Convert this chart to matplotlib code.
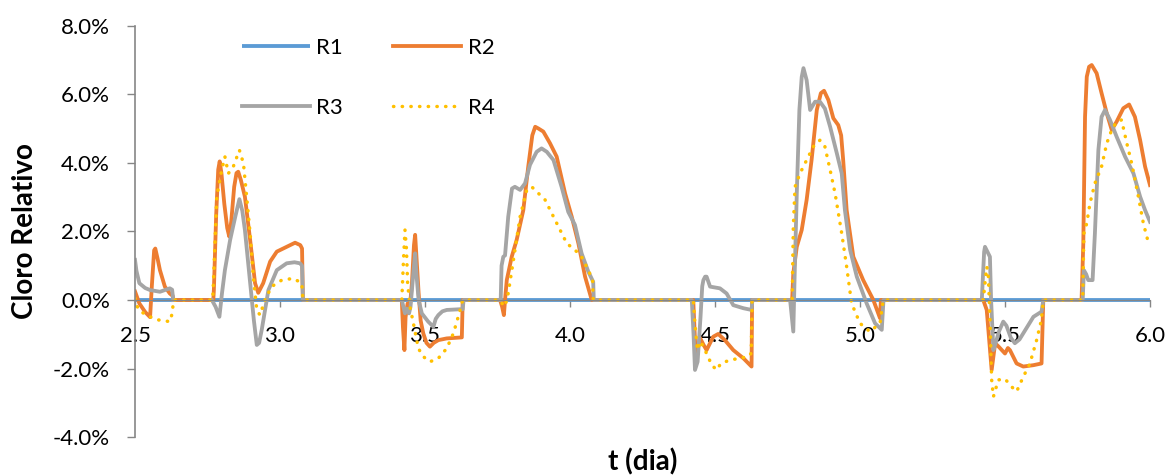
import numpy as np
import matplotlib
matplotlib.use("Agg")
import matplotlib.pyplot as plt
from matplotlib.ticker import FuncFormatter, MultipleLocator

plt.rcParams['font.family'] = ['Lato', 'DejaVu Sans']

nan = np.nan

# ---- dados (t em dias, cloro relativo em %) ----
t_r1 = [2.5, 6.0]
r1 = [0.0, 0.0]

t_r2 = [2.500, 2.515, 2.535, 2.552, 2.558, 2.566, 2.570, 2.578, 2.586, 2.603, 2.620, 2.630, 2.633,
        2.770, 2.772, 2.780, 2.787, 2.792, 2.798, 2.808, 2.818, 2.825, 2.832, 2.842, 2.850, 2.856,
        2.865, 2.879, 2.897, 2.914, 2.925, 2.942, 2.966, 2.989, 3.023, 3.052, 3.070, 3.076, 3.079,
        3.420, 3.424, 3.429, 3.433, 3.440, 3.448, 3.455, 3.462, 3.466, 3.471, 3.478, 3.485, 3.494,
        3.505, 3.517, 3.530, 3.546, 3.575, 3.627, 3.630,
        3.759, 3.766, 3.772, 3.777, 3.782, 3.799, 3.816, 3.839, 3.856, 3.870, 3.880, 3.891, 3.908,
        3.931, 3.954, 3.983, 4.006, 4.029, 4.052, 4.075,
        4.425, 4.434, 4.448, 4.460, 4.471, 4.494, 4.511, 4.534, 4.563, 4.598, 4.626, 4.628,
        4.766, 4.770, 4.782, 4.799, 4.816, 4.833, 4.851, 4.865, 4.876, 4.891, 4.908, 4.925, 4.935,
        4.942, 4.954, 4.977, 5.011, 5.046, 5.069, 5.072,
        5.425, 5.437, 5.454, 5.466, 5.477, 5.500, 5.510, 5.517, 5.540, 5.563, 5.598, 5.626, 5.632,
        5.764, 5.770, 5.776, 5.782, 5.790, 5.799, 5.816, 5.833, 5.851, 5.868, 5.885, 5.908, 5.928,
        5.948, 5.966, 5.983, 6.000]
r2 = [0.25, -0.10, -0.35, -0.50, 0.40, 1.45, 1.50, 1.20, 0.87, 0.39, 0.19, 0.12, 0.0,
      0.0, 0.30, 2.50, 3.80, 4.04, 3.70, 2.80, 2.10, 1.85, 2.30, 3.30, 3.70, 3.74,
      3.50, 3.01, 1.75, 0.49, 0.21, 0.49, 1.12, 1.41, 1.55, 1.67, 1.60, 1.50, 0.0,
      0.0, -0.80, -1.46, -0.50, -0.10, -0.20, 0.50, 1.60, 1.90, 1.20, 0.20, -0.60, -0.97,
      -1.25, -1.36, -1.25, -1.17, -1.12, -1.09, 0.0,
      0.0, -0.20, -0.44, 0.10, 0.58, 1.26, 1.75, 2.62, 3.89, 4.80, 5.05, 5.00, 4.91,
      4.57, 4.18, 3.11, 2.43, 1.65, 0.68, 0.0,
      0.0, -1.75, -1.10, -1.30, -1.46, -1.07, -0.99, -1.17, -1.46, -1.70, -1.94, 0.0,
      0.0, 0.78, 1.55, 2.04, 2.92, 4.08, 5.54, 6.03, 6.10, 5.83, 5.30, 5.10, 4.80,
      4.08, 2.62, 1.26, 0.58, 0.0, -0.53, 0.0,
      0.0, -0.29, -2.04, -1.26, -1.35, -1.56, -1.40, -1.46, -1.85, -1.94, -1.90, -1.85, 0.0,
      0.0, 1.65, 5.34, 6.51, 6.80, 6.85, 6.61, 6.03, 5.44, 4.96, 5.20, 5.59, 5.70,
      5.34, 4.66, 3.89, 3.35]

t_r3 = [2.500, 2.505, 2.515, 2.535, 2.552, 2.586, 2.620, 2.628, 2.632, 2.700,
        2.765, 2.778, 2.791, 2.800, 2.810, 2.828, 2.845, 2.860, 2.870, 2.879, 2.897, 2.910, 2.920,
        2.928, 2.937, 2.960, 2.989, 3.023, 3.050, 3.069, 3.076, 3.079,
        3.420, 3.431, 3.437, 3.445, 3.450, 3.460, 3.466, 3.470, 3.478, 3.489, 3.511, 3.529, 3.537,
        3.546, 3.560, 3.575, 3.620, 3.630, 3.633,
        3.761, 3.764, 3.770, 3.776, 3.787, 3.800, 3.810, 3.828, 3.845, 3.862, 3.885, 3.902, 3.920,
        3.943, 3.971, 3.994, 4.017, 4.040, 4.063, 4.080, 4.082,
        4.420, 4.426, 4.431, 4.440, 4.450, 4.456, 4.460, 4.466, 4.471, 4.483, 4.517, 4.540, 4.563,
        4.598, 4.626, 4.629,
        4.759, 4.765, 4.770, 4.774, 4.782, 4.791, 4.799, 4.805, 4.816, 4.828, 4.845, 4.862, 4.879,
        4.897, 4.920, 4.937, 4.948, 4.966, 4.989, 5.023, 5.052, 5.075, 5.081,
        5.420, 5.428, 5.431, 5.448, 5.452, 5.460, 5.466, 5.480, 5.494, 5.505, 5.520, 5.534, 5.550,
        5.574, 5.598, 5.626, 5.632,
        5.768, 5.772, 5.780, 5.787, 5.802, 5.810, 5.822, 5.833, 5.845, 5.862, 5.885, 5.914, 5.943,
        5.966, 5.983, 6.000]
r3 = [1.17, 0.85, 0.49, 0.35, 0.29, 0.24, 0.34, 0.30, 0.0, nan,
      0.0, -0.20, -0.49, 0.20, 0.87, 1.75, 2.40, 2.94, 2.60, 2.04, 0.49, -0.60, -1.31,
      -1.25, -0.87, 0.29, 0.87, 1.07, 1.10, 1.07, 1.00, 0.0,
      0.0, -0.39, -0.25, -0.39, -0.20, 0.80, 1.36, 0.80, 0.0, -0.39, -0.63, -0.78, -0.55,
      -0.44, -0.33, -0.29, -0.27, -0.27, 0.0,
      0.0, 1.00, 1.26, 1.30, 2.43, 3.25, 3.30, 3.21, 3.40, 3.94, 4.32, 4.42, 4.32,
      4.08, 3.30, 2.57, 2.19, 1.36, 0.83, 0.53, 0.0,
      0.0, -1.00, -2.04, -1.80, -0.50, 0.40, 0.58, 0.68, 0.68, 0.39, 0.34, 0.19, -0.15,
      -0.24, -0.29, 0.0,
      0.0, -0.50, -0.92, 0.50, 3.11, 5.54, 6.50, 6.76, 6.41, 5.54, 5.78, 5.78, 5.58,
      5.05, 4.28, 3.69, 2.62, 1.46, 0.68, -0.10, -0.68, -0.87, 0.0,
      0.0, 1.40, 1.55, 1.26, 0.0, -1.46, -1.30, -0.90, -0.63, -0.75, -1.10, -1.26, -1.15,
      -0.82, -0.49, -0.34, 0.0,
      0.0, 0.87, 0.75, 0.58, 0.58, 1.94, 4.37, 5.34, 5.54, 5.25, 4.76, 4.18, 3.69,
      3.01, 2.62, 2.28]

t_r4 = [2.500, 2.510, 2.520, 2.552, 2.580, 2.620, 2.628, 2.633,
        2.768, 2.775, 2.782, 2.799, 2.810, 2.822, 2.839, 2.860, 2.874, 2.885, 2.897, 2.908, 2.920,
        2.931, 2.948, 2.971, 3.006, 3.046, 3.075, 3.079,
        3.420, 3.426, 3.431, 3.436, 3.440, 3.448, 3.460, 3.477, 3.494, 3.517, 3.546, 3.575, 3.598,
        3.618, 3.630,
        3.759, 3.766, 3.776, 3.787, 3.805, 3.828, 3.851, 3.868, 3.891, 3.914, 3.937, 3.960, 3.989,
        4.017, 4.040, 4.063, 4.078, 4.080,
        4.425, 4.432, 4.439, 4.450, 4.471, 4.489, 4.506, 4.520, 4.552, 4.585, 4.615, 4.625, 4.628,
        4.766, 4.770, 4.776, 4.793, 4.816, 4.839, 4.862, 4.879, 4.897, 4.914, 4.937, 4.954, 4.971,
        5.000, 5.034, 5.069, 5.080,
        5.425, 5.437, 5.442, 5.448, 5.454, 5.460, 5.477, 5.500, 5.523, 5.540, 5.563, 5.586, 5.609,
        5.625, 5.632,
        5.768, 5.772, 5.782, 5.793, 5.810, 5.833, 5.851, 5.868, 5.885, 5.902, 5.920, 5.937, 5.960,
        5.977, 5.995]
r4 = [0.05, -0.25, -0.34, -0.49, -0.58, -0.63, -0.40, 0.0,
      0.0, 1.50, 3.01, 3.79, 4.18, 3.69, 3.89, 4.37, 3.98, 3.01, 1.94, 0.68, -0.29,
      -0.44, 0.0, 0.39, 0.58, 0.63, 0.49, 0.0,
      0.0, 1.20, 2.04, 1.50, 0.50, -0.19, -0.68, -1.41, -1.65, -1.80, -1.70, -1.41, -0.97,
      -0.39, 0.0,
      0.0, -0.10, -0.19, 0.20, 1.17, 2.43, 3.21, 3.30, 3.11, 2.92, 2.53, 2.14, 1.65,
      1.46, 1.26, 0.87, 0.58, 0.0,
      0.0, -0.80, -1.46, -1.20, -1.56, -1.90, -2.04, -1.85, -1.75, -1.70, -1.65, -1.55, 0.0,
      0.0, 2.14, 3.30, 3.69, 4.08, 4.47, 4.66, 4.47, 3.79, 3.11, 1.94, 0.97, -0.10,
      -0.68, -0.92, -0.68, 0.0,
      0.0, 0.97, 0.80, -0.50, -2.33, -2.82, -2.33, -2.30, -2.53, -2.67, -2.24, -1.85, -1.17,
      -0.60, 0.0,
      0.0, 1.94, 2.24, 2.82, 3.40, 3.89, 4.57, 4.96, 5.20, 5.25, 4.57, 3.98, 3.01,
      2.24, 1.65]

fig = plt.figure(figsize=(11.69, 4.75), dpi=100)
ax = fig.add_axes([135 / 1169, 1 - 437.2 / 475, 1015 / 1169, 411.6 / 475])

l1, = ax.plot(t_r1, r1, color="#5B9BD5", lw=2.75, label="R1", solid_capstyle="butt")
l2, = ax.plot(t_r2, r2, color="#ED7D31", lw=2.75, label="R2")
l3, = ax.plot(t_r3, r3, color="#A5A5A5", lw=2.75, label="R3")
l4, = ax.plot(t_r4, r4, color="#FFC000", lw=2.5, label="R4",
              linestyle=(0, (0.1, 2.4)), dash_capstyle="round")

ax.set_xlim(2.5, 6.0)
ax.set_ylim(-4, 8)
ax.xaxis.set_major_locator(MultipleLocator(0.5))
ax.yaxis.set_major_locator(MultipleLocator(2))
ax.xaxis.set_major_formatter(FuncFormatter(lambda v, p: "%.1f" % v))
ax.yaxis.set_major_formatter(FuncFormatter(lambda v, p: "%.1f%%" % v))

for s in ["top", "right"]:
    ax.spines[s].set_visible(False)
ax.spines["bottom"].set_position(("data", 0))
ax.spines["left"].set_color("#868686")
ax.spines["bottom"].set_color("#868686")
ax.spines["left"].set_linewidth(1.2)
ax.tick_params(axis="y", direction="out", length=6, width=1, color="#868686",
               labelsize=16, pad=12)
ax.tick_params(axis="x", direction="out", length=5, width=1, color="#868686",
               labelsize=16, pad=14)

ax.set_ylabel("Cloro Relativo", fontsize=20, fontweight="bold", va="center")
ax.yaxis.set_label_coords(-0.108, 0.5)
ax.set_xlabel("t (dia)", fontsize=20, fontweight="bold", va="center")
ax.xaxis.set_label_coords(0.5, -0.06)

# ordem por linhas: R1 R2 / R3 R4
ax.legend([l1, l3, l2, l4], ["R1", "R3", "R2", "R4"],
          loc="upper left", bbox_to_anchor=(0.105, 0.97), ncol=2, frameon=False,
          fontsize=16, handlelength=3.06, handletextpad=0.3, columnspacing=2.25,
          labelspacing=1.8, borderpad=0, borderaxespad=0)

fig.savefig("out.png", dpi=100)
